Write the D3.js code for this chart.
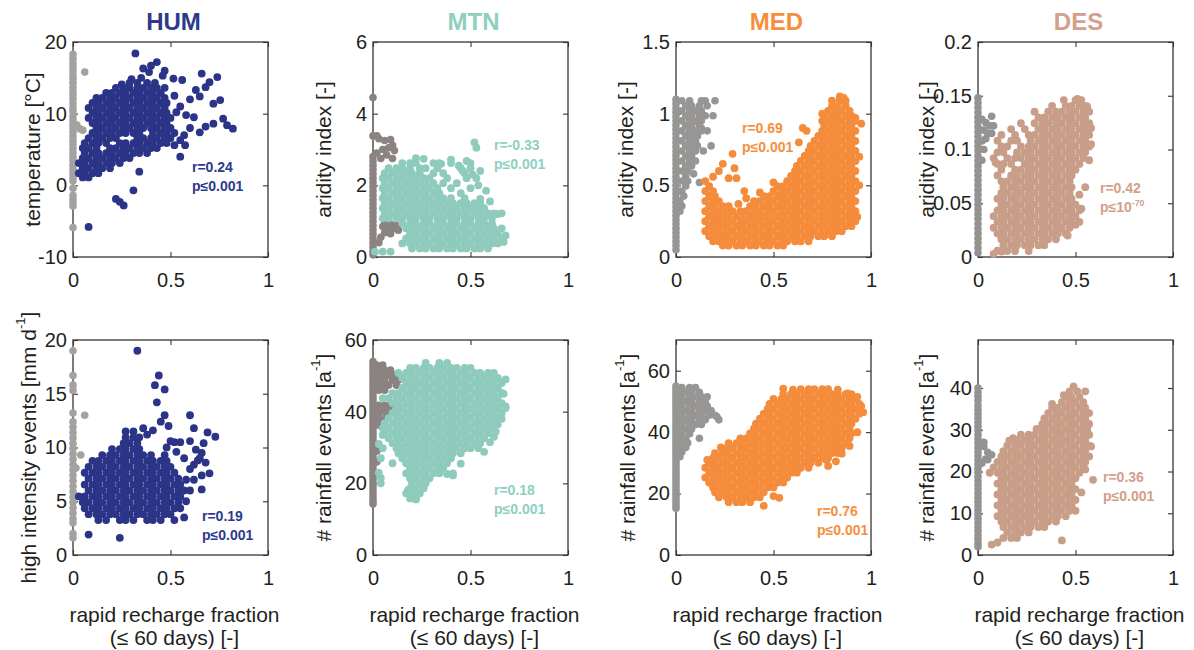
<!DOCTYPE html>
<html>
<head>
<meta charset="utf-8">
<script src="https://cdn.jsdelivr.net/npm/d3@7"></script>
<style>
  body { margin: 0; background: #fff; }
</style>
</head>
<body>
<script>
// values
// dense parts of a cloud are written as rows: [y, x, x, x, ...]
// scattered points as [x, y]; grey points on x = 0 as a list of y values

var xTicks = [0, 0.5, 1];
var regions = ["HUM", "MTN", "MED", "DES"];

// HUM - temperature
var humTempRows = [
  [14.3, .29, .33, .38, .42],
  [13.6, .22, .26, .29, .33, .36, .40, .43, .47],
  [12.9, .17, .20, .24, .27, .31, .34, .38, .41, .45],
  [12.2, .12, .15, .19, .22, .26, .29, .33, .36, .40, .43, .47],
  [11.5, .10, .13, .17, .20, .24, .27, .31, .34, .38, .41, .45, .48],
  [10.8, .08, .12, .15, .19, .22, .26, .29, .33, .36, .40, .43, .47],
  [10.1, .10, .13, .17, .20, .24, .27, .31, .34, .38, .41, .45, .48],
  [9.4, .08, .12, .15, .19, .22, .26, .29, .33, .36, .40, .43, .47, .50],
  [8.7, .10, .13, .17, .20, .24, .27, .31, .34, .38, .41, .45, .48],
  [8.0, .12, .15, .19, .22, .26, .29, .33, .36, .40, .43, .47, .50],
  [7.3, .10, .13, .17, .20, .24, .27, .31, .34, .41, .45, .48, .52],
  [6.6, .08, .12, .15, .19, .22, .33, .36, .40, .43, .47, .50],
  [5.9, .06, .10, .13, .17, .24, .27, .31, .34, .38, .41, .45, .48],
  [5.2, .05, .08, .12, .19, .22, .26, .29, .33, .36, .40, .43],
  [4.5, .06, .10, .13, .17, .20, .24, .27, .31, .34, .38],
  [3.8, .05, .08, .12, .15, .19, .22, .26, .29],
  [3.1, .03, .06, .10, .13, .17, .20, .24],
  [2.4, .05, .08, .12, .15, .19],
  [1.7, .03, .06, .10, .13],
  [1.1, .05, .08]
];
var humTempPts = [[.32,18.4],[.43,17.2],[.40,16.7],[.36,16.3],[.39,15.8],[.47,16.0],[.46,15.3],[.515,14.9],[.35,15.0],[.30,14.8],[.25,14.1],
  [.56,14.7],[.66,15.6],[.74,15.1],[.70,14.4],[.68,13.7],[.63,13.3],[.65,12.4],[.60,12.0],[.72,11.4],[.755,11.9],[.52,12.5],[.55,11.0],
  [.53,10.2],[.58,9.8],[.62,9.5],[.77,9.3],[.79,8.4],[.82,7.9],[.65,7.4],[.72,8.6],[.68,8.2],[.60,8.0],[.57,7.0],[.55,6.3],[.52,5.6],
  [.575,5.6],[.55,4.0],[.31,-0.7],[.22,-1.9],[.24,-2.3],[.26,-2.8],[.08,-5.8],[.34,1.9]];
var humTempGreyY = [18.3,17.7,17.1,16.6,16.0,15.4,14.9,14.3,13.7,13.1,12.6,12.0,11.4,10.8,10.3,9.7,9.1,8.5,8.0,7.4,6.8,6.2,5.7,5.1,4.5,3.9,3.4,2.8,2.2,1.6,1.1,0.6,-0.4,-1.4,-1.9,-2.4,-2.9,-5.9];
var humTempGreyRows = [];
var humTempGreyPts = [[.06,15.8],[.035,7.9],[.02,8.4],[.05,7.7]];

// HUM - high intensity events
var humIntRows = [
  [11.5, .27, .31],
  [10.95, .27, .31, .34],
  [10.4, .26, .29, .33],
  [9.85, .20, .24, .27, .31, .34],
  [9.3, .15, .19, .22, .26, .29, .33, .36, .40, .47],
  [8.75, .10, .13, .17, .20, .24, .27, .31, .34, .38, .41, .45, .48],
  [8.2, .08, .12, .15, .19, .22, .26, .29, .33, .36, .40, .43, .47, .50],
  [7.65, .06, .10, .13, .17, .20, .24, .27, .31, .34, .38, .41, .45, .48, .52],
  [7.1, .08, .12, .15, .19, .22, .26, .29, .33, .36, .40, .43, .47, .50, .54],
  [6.55, .06, .10, .13, .17, .20, .24, .27, .31, .34, .38, .41, .45, .48, .52, .55],
  [6.0, .08, .12, .15, .19, .22, .26, .29, .33, .36, .40, .43, .47, .50, .54, .57],
  [5.45, .03, .06, .10, .13, .17, .20, .24, .27, .31, .34, .38, .41, .45, .48, .52, .55],
  [4.9, .05, .08, .12, .15, .19, .22, .26, .29, .33, .36, .40, .43, .47, .50, .54],
  [4.35, .06, .10, .13, .17, .20, .24, .27, .31, .34, .38, .41, .45, .48, .52, .55],
  [3.8, .08, .12, .15, .19, .22, .26, .29, .33, .36, .40, .43, .47, .50],
  [3.25, .13, .17, .24, .27, .31, .38, .41, .45, .52]
];
var humIntPts = [[.33,19.0],[.44,16.7],[.42,15.8],[.47,15.4],[.43,14.2],[.47,13.0],[.45,12.4],[.49,12.0],[.41,11.6],[.36,11.8],[.38,11.2],
  [.50,10.6],[.52,10.5],[.55,10.5],[.53,9.6],[.48,10.0],[.60,13.0],[.62,11.8],[.69,11.4],[.73,11.0],[.67,10.4],[.60,10.6],[.63,9.8],
  [.66,9.5],[.65,9.0],[.68,8.6],[.70,7.6],[.62,8.4],[.64,8.8],[.66,7.4],[.60,8.0],[.57,9.0],[.58,7.0],[.62,7.0],[.66,6.1],[.60,6.0],
  [.58,5.0],[.57,3.5],[.08,1.9],[.24,1.6]];
var humIntGreyY = [19.0,16.7,15.8,15.3,13.2,12.4,11.9,11.4,10.9,10.4,9.9,9.4,8.9,8.4,7.9,7.4,6.9,6.4,5.9,5.4,4.9,4.4,3.9,3.4,3.0,2.0,1.6];
var humIntGreyRows = [];
var humIntGreyPts = [[.06,13.0],[.04,9.3],[.015,8.1]];

// MTN - aridity index
var mtnAridRows = [
  [2.62, .15, .19, .22, .31, .34, .40],
  [2.48, .08, .12, .15, .19, .24, .27, .33, .45, .50],
  [2.34, .06, .10, .13, .17, .20, .24, .31, .36, .47],
  [2.20, .05, .08, .12, .15, .19, .22, .26, .29, .38, .48, .53],
  [2.06, .06, .10, .13, .17, .20, .24, .27, .31, .36, .43],
  [1.92, .05, .08, .12, .15, .19, .22, .26, .29, .33, .40, .50],
  [1.78, .06, .10, .13, .17, .20, .24, .27, .31, .34, .45],
  [1.64, .05, .08, .12, .15, .19, .22, .26, .29, .33, .36, .40, .47],
  [1.50, .06, .10, .13, .17, .20, .24, .27, .31, .34, .38, .41, .45, .48, .52, .55],
  [1.36, .05, .08, .12, .15, .19, .22, .26, .29, .33, .36, .40, .43, .47, .50, .54, .57],
  [1.22, .06, .10, .13, .17, .20, .24, .27, .31, .34, .38, .41, .45, .48, .52, .55, .59, .62],
  [1.08, .05, .08, .12, .15, .19, .22, .26, .29, .33, .36, .40, .43, .47, .50, .54, .57, .61],
  [0.94, .15, .19, .22, .26, .29, .33, .36, .40, .43, .47, .50, .54, .57, .61],
  [0.80, .17, .20, .24, .27, .31, .34, .38, .41, .45, .48, .52, .55, .59, .62, .66],
  [0.66, .19, .22, .26, .29, .33, .36, .40, .43, .47, .50, .54, .57, .61, .64],
  [0.52, .17, .20, .24, .27, .31, .34, .38, .41, .45, .48, .52, .55, .59, .62, .66],
  [0.38, .15, .19, .22, .26, .29, .33, .36, .40, .43, .47, .50, .54, .57, .61, .64],
  [0.24, .20, .24, .27, .31, .34, .38, .41, .45, .48, .52, .55, .59]
];
var mtnAridPts = [[.52,3.2],[.53,3.05],[.48,2.68],[.40,2.72],[.44,2.55],[.35,2.6],[.26,2.74],[.22,2.76],[.54,2.0],[.51,2.3],[.46,2.4],
  [.50,2.62],[.55,1.62],[.60,1.55],[.64,1.2],[.66,1.22],[.67,0.42],[.68,0.6],[.01,0.15],[.05,0.15],[.09,0.15],[.58,1.85],[.55,2.4]];
var mtnAridGreyY = [3.38,2.8,2.68,2.56,2.44,2.32,2.2,2.08,1.96,1.84,1.72,1.6,1.48,1.36,1.24,1.12,1.0,0.88,0.76,0.64,0.52,0.4,0.28,0.16,0.06];
var mtnAridGreyRows = [];
var mtnAridGreyPts = [[0,4.45],[.02,3.38],[.03,3.3],[.06,3.25],[.09,3.28],[.10,3.12],[.11,2.97],[.08,3.05],[.07,2.85],[.04,2.75],
  [.10,2.75],[.05,3.0],[.02,2.9],[.06,.95],[.09,.92],[.12,.88],[.07,.80],[.10,.78],[.13,.75],[.06,.68],[.09,.65],[.04,.55],[.03,.40],[.05,.85]];

// MTN - rainfall events
var mtnRainRows = [
  [53.6, .27, .34, .38],
  [52.2, .19, .22, .26, .29, .33, .36, .40, .43, .47, .50],
  [50.8, .13, .17, .20, .24, .27, .31, .34, .38, .41, .45, .48, .52, .55, .59, .62],
  [49.4, .15, .19, .22, .26, .29, .33, .36, .40, .43, .47, .50, .54, .57, .61, .64],
  [48.0, .17, .20, .24, .27, .31, .34, .38, .41, .45, .48, .52, .55, .59, .62, .66],
  [46.6, .15, .19, .22, .26, .29, .33, .36, .40, .43, .47, .50, .54, .57, .61, .64],
  [45.2, .10, .13, .17, .20, .24, .27, .31, .34, .38, .41, .45, .48, .52, .55, .59, .62, .66],
  [43.8, .05, .08, .12, .15, .19, .22, .26, .29, .33, .36, .40, .43, .47, .50, .54, .57, .61, .64],
  [42.4, .10, .13, .17, .20, .24, .27, .31, .34, .38, .41, .45, .48, .52, .55, .59, .62, .66],
  [41.0, .12, .15, .19, .22, .26, .29, .33, .36, .40, .43, .47, .50, .54, .57, .61, .64, .68],
  [39.6, .10, .13, .17, .20, .24, .27, .31, .34, .38, .41, .45, .48, .52, .55, .59, .62, .66],
  [38.2, .08, .12, .15, .19, .22, .26, .29, .33, .36, .40, .43, .47, .50, .54, .57, .61, .64],
  [36.8, .06, .10, .13, .17, .20, .24, .27, .31, .34, .38, .41, .45, .48, .52, .55, .59, .62],
  [35.4, .05, .08, .12, .15, .19, .22, .26, .29, .33, .36, .40, .43, .47, .50, .54, .57, .61],
  [34.0, .06, .10, .13, .17, .20, .24, .27, .31, .34, .38, .41, .45, .48, .52, .55, .59],
  [32.6, .08, .12, .15, .19, .22, .26, .29, .33, .36, .40, .43, .47, .50, .54, .57],
  [31.2, .10, .13, .17, .20, .24, .27, .31, .34, .38, .41, .45, .48, .52, .55],
  [29.8, .05, .12, .15, .19, .22, .26, .29, .33, .36, .40, .43, .47, .50, .54],
  [28.4, .13, .17, .20, .24, .27, .31, .34, .38, .41, .45],
  [27.0, .15, .19, .22, .26, .29, .33, .36, .40],
  [25.6, .10, .17, .20, .24, .27, .31, .34, .38],
  [24.2, .19, .22, .26, .29, .33, .36],
  [22.8, .17, .20, .24, .27, .31, .34, .41],
  [21.4, .19, .22, .26, .29],
  [20.0, .20, .24, .27],
  [18.6, .19, .22, .26],
  [17.2, .17, .20, .24],
  [15.8, .19, .22]
];
var mtnRainPts = [[.68,49.0],[.67,45.0],[.68,41.5],[.66,38.0],[.63,34.5],[.62,33.0],[.03,23.0],[.04,20.0],[.04,27.0],[.03,31.0],
  [.05,33.5],[.04,21.5],[.41,22.2],[.38,22.6],[.45,25.5],[.22,15.5],[.18,18.2],[.57,28.8],[.60,31.5],[.64,36.5]];
var mtnRainGreyY = [54,53,52,51,50,49,48,47,46,45,44,43,42,41,40,39,38,37,36,35,34,33,32,31,30,29,28,27,26,25,24,23,22,21,20,19,18,17,16,15,14.2];
var mtnRainGreyRows = [
  [53.0, .02, .05],
  [51.6, .03, .06, .09],
  [50.2, .02, .05, .08, .11],
  [48.8, .03, .06, .10, .13],
  [47.4, .02, .05, .08, .12],
  [46.0, .03, .06],
  [41.8, .03, .06, .09],
  [40.4, .02, .05, .08],
  [39.0, .03, .07],
  [37.6, .02, .05],
  [36.2, .03]
];
var mtnRainGreyPts = [[.02,29.0],[.02,26.0]];

// MED - aridity index
var medAridRows = [
  [1.090, .80, .84, .87],
  [1.055, .80, .83, .87],
  [1.020, .78, .82, .85, .89],
  [0.985, .76, .80, .83, .87, .90],
  [0.950, .75, .78, .82, .85, .89, .92],
  [0.915, .76, .80, .83, .87, .90],
  [0.880, .75, .78, .82, .85, .89, .92],
  [0.845, .73, .76, .80, .83, .87, .90],
  [0.810, .71, .75, .78, .82, .85, .89, .92],
  [0.775, .69, .73, .76, .80, .83, .87, .90],
  [0.740, .68, .71, .75, .78, .82, .85, .89, .92],
  [0.705, .66, .69, .73, .76, .80, .83, .87, .90],
  [0.670, .64, .68, .71, .75, .78, .82, .85, .89, .92],
  [0.635, .62, .66, .69, .73, .76, .80, .83, .87, .90],
  [0.600, .61, .64, .68, .71, .75, .78, .82, .85, .89, .92],
  [0.565, .59, .62, .66, .69, .73, .76, .80, .83, .87, .90],
  [0.530, .57, .61, .64, .68, .71, .75, .78, .82, .85, .89, .92],
  [0.495, .17, .52, .55, .59, .62, .66, .69, .73, .76, .80, .83, .87, .90],
  [0.460, .15, .19, .50, .54, .57, .61, .64, .68, .71, .75, .78, .82, .85, .89, .92],
  [0.425, .17, .20, .45, .48, .52, .55, .59, .62, .66, .69, .73, .76, .80, .83, .87, .90],
  [0.390, .15, .19, .22, .40, .43, .47, .50, .54, .57, .61, .64, .68, .71, .75, .78, .82, .85, .89, .92],
  [0.355, .17, .20, .24, .27, .38, .41, .45, .48, .52, .55, .59, .62, .66, .69, .73, .76, .80, .83, .87, .90],
  [0.320, .15, .19, .22, .26, .29, .33, .36, .40, .43, .47, .50, .54, .57, .61, .64, .68, .71, .75, .78, .82, .85, .89, .92],
  [0.285, .17, .20, .24, .27, .31, .34, .38, .41, .45, .48, .52, .55, .59, .62, .66, .69, .73, .76, .80, .83, .87, .90],
  [0.250, .15, .19, .22, .26, .29, .33, .36, .40, .43, .47, .50, .54, .57, .61, .64, .68, .71, .75, .78, .82, .85, .89, .92],
  [0.215, .17, .20, .24, .27, .31, .34, .38, .41, .45, .48, .52, .55, .59, .62, .66, .69, .73, .76, .80, .83, .87, .90],
  [0.180, .15, .19, .22, .26, .29, .33, .36, .40, .43, .47, .50, .54, .57, .61, .64, .68, .71, .75, .78, .82, .85],
  [0.145, .17, .20, .24, .27, .31, .34, .38, .41, .45, .48, .52, .55, .59, .62, .66, .69, .73, .76, .80],
  [0.110, .19, .22, .26, .29, .33, .36, .40, .43, .47, .50, .54, .57, .61, .64, .68],
  [0.080, .24, .27, .31, .34, .38, .41, .45, .48, .52, .55]
];
var medAridPts = [[.29,.72],[.24,.65],[.30,.62],[.31,.55],[.35,.46],[.27,.55],[.22,.60],[.19,.56],[.15,.53],[.65,.90],[.67,.88],
  [.63,.80],[.86,1.11],[.92,.97],[.95,.93],[.94,.70],[.94,.50],[.50,.52],[.43,.45],[.36,.41],[.32,.37],[.93,.28],[.84,1.12],[.75,1.0]];
var medAridGreyY = [1.1,1.07,1.04,1.01,.98,.95,.92,.89,.86,.83,.80,.77,.74,.71,.68,.65,.62,.59,.56,.53,.50,.47,.44,.41,.38,.35,.32,.29,.26,.23,.20,.17,.14,.11,.08,.05];
var medAridGreyRows = [
  [1.090, .03, .07, .13, .15, .20],
  [1.055, .05, .08, .12, .16],
  [1.020, .03, .07, .10, .13],
  [0.985, .05, .08, .12, .15, .19],
  [0.950, .03, .07, .10, .13],
  [0.915, .05, .08, .12],
  [0.880, .03, .07, .10, .13],
  [0.845, .05, .08, .11],
  [0.810, .03, .07, .10],
  [0.775, .05, .08, .11, .18],
  [0.740, .03, .07, .10, .14],
  [0.705, .05, .08],
  [0.670, .03, .07, .10],
  [0.635, .05, .08],
  [0.600, .03, .06],
  [0.565, .05],
  [0.530, .03, .06],
  [0.495, .05],
  [0.460, .03],
  [0.425, .04],
  [0.390, .02],
  [0.355, .03],
  [0.320, .02]
];
var medAridGreyPts = [[.12,.52],[.09,.58],[.13,.90],[.16,.88]];

// MED - rainfall events
var medRainRows = [
  [54.0, .64, .68, .71, .75, .78],
  [52.4, .55, .59, .62, .66, .69, .73, .76, .80, .83, .87, .90],
  [50.8, .50, .54, .57, .61, .64, .68, .71, .75, .78, .82, .85, .89, .92],
  [49.2, .48, .52, .55, .59, .62, .66, .69, .73, .76, .80, .83, .87, .90, .94],
  [47.6, .47, .50, .54, .57, .61, .64, .68, .71, .75, .78, .82, .85, .89, .92],
  [46.0, .45, .48, .52, .55, .59, .62, .66, .69, .73, .76, .80, .83, .87, .90, .94],
  [44.4, .43, .47, .50, .54, .57, .61, .64, .68, .71, .75, .78, .82, .85, .89, .92],
  [42.8, .41, .45, .48, .52, .55, .59, .62, .66, .69, .73, .76, .80, .83, .87, .90],
  [41.2, .40, .43, .47, .50, .54, .57, .61, .64, .68, .71, .75, .78, .82, .85, .89],
  [39.6, .38, .41, .45, .48, .52, .55, .59, .62, .66, .69, .73, .76, .80, .83, .87, .90],
  [38.0, .33, .36, .40, .43, .47, .50, .54, .57, .61, .64, .68, .71, .75, .78, .82, .85, .89],
  [36.4, .27, .31, .34, .38, .41, .45, .48, .52, .55, .59, .62, .66, .69, .73, .76, .80, .83, .87],
  [34.8, .26, .29, .33, .36, .40, .43, .47, .50, .54, .57, .61, .64, .68, .71, .75, .78, .82, .85],
  [33.2, .24, .27, .31, .34, .38, .41, .45, .48, .52, .55, .59, .62, .66, .69, .73, .76, .80, .83],
  [31.6, .19, .22, .26, .29, .33, .36, .40, .43, .47, .50, .54, .57, .61, .64, .68, .71, .75, .78],
  [30.0, .17, .20, .24, .27, .31, .34, .38, .41, .45, .48, .52, .55, .59, .62, .66, .69, .73],
  [28.4, .15, .19, .22, .26, .29, .33, .36, .40, .43, .47, .50, .54, .57, .61, .64, .68],
  [26.8, .17, .20, .24, .27, .31, .34, .38, .41, .45, .48, .52, .55, .59, .62],
  [25.2, .15, .19, .22, .26, .29, .33, .36, .40, .43, .47, .50, .54, .57],
  [23.6, .17, .20, .24, .27, .31, .34, .38, .41, .45, .48, .52, .55],
  [22.0, .19, .22, .26, .29, .33, .36, .40, .43, .47, .50],
  [20.4, .20, .24, .27, .31, .34, .38, .41, .45],
  [18.8, .22, .26, .29, .33, .36, .40, .43],
  [17.2, .27, .31, .34, .38]
];
var medRainPts = [[.45,16.0],[.50,19.2],[.53,18.6],[.78,29.0],[.85,33.0],[.77,31.0],[.82,30.5],[.89,35.5],[.93,40.0],[.96,46.5],
  [.95,48.5],[.93,51.5],[.83,53.8],[.60,53.8],[.55,54.2],[.16,31.0],[.20,33.2],[.23,35.0],[.40,38.8],[.88,52.6]];
var medRainGreyY = [55,54,53,52,51,50,49,48,47,46,45,44,43,42,41,40,39,38,37,36,35,34,33,32,31,30,29,28,27,26,25,24,23,22,21,20,19,18,17,16,15.2];
var medRainGreyRows = [
  [54.5, .03, .07, .10],
  [53.0, .02, .05, .08, .12],
  [51.5, .03, .07, .10, .13, .16],
  [50.0, .02, .05, .08, .12, .15],
  [48.5, .03, .07, .10, .13, .16],
  [47.0, .02, .05, .08, .12, .15, .18],
  [45.5, .03, .07, .10, .13, .17, .20],
  [44.0, .02, .05, .08, .12, .15, .22],
  [42.5, .03, .07, .10, .13],
  [41.0, .02, .05, .08],
  [39.5, .03, .07],
  [38.0, .02, .05, .12],
  [36.5, .03, .06],
  [35.0, .02, .05],
  [33.5, .03],
  [32.0, .02]
];
var medRainGreyPts = [[.18,46.5],[.21,45.0]];

// DES - aridity index
var desAridRows = [
  [.1460, .44, .50, .53],
  [.1406, .38, .45, .48, .52, .55],
  [.1352, .29, .36, .40, .43, .47, .50, .54, .57],
  [.1298, .31, .34, .38, .41, .45, .48, .52, .55],
  [.1244, .22, .29, .33, .36, .40, .43, .47, .50, .54, .57],
  [.1190, .17, .24, .31, .34, .38, .41, .45, .48, .52, .55],
  [.1136, .12, .19, .26, .29, .33, .36, .40, .43, .47, .50, .54, .57],
  [.1082, .10, .17, .20, .27, .31, .34, .38, .41, .45, .48, .52, .55],
  [.1028, .12, .15, .22, .26, .29, .33, .36, .40, .43, .47, .50, .54, .57],
  [.0974, .10, .13, .20, .24, .27, .31, .34, .38, .41, .45, .48, .52, .55],
  [.0920, .08, .15, .19, .22, .26, .29, .33, .36, .40, .43, .47, .50, .54],
  [.0866, .10, .13, .17, .24, .27, .31, .34, .38, .41, .45, .48, .52],
  [.0812, .12, .19, .22, .26, .29, .33, .36, .40, .43, .47, .50],
  [.0758, .10, .17, .20, .24, .27, .31, .34, .38, .41, .45, .48],
  [.0704, .12, .15, .19, .22, .26, .29, .33, .36, .40, .43, .47],
  [.0650, .13, .17, .20, .24, .27, .31, .34, .38, .41, .45, .48],
  [.0596, .12, .15, .19, .22, .26, .29, .33, .36, .40, .43, .47],
  [.0542, .10, .13, .17, .20, .24, .27, .31, .34, .38, .41, .45, .48],
  [.0488, .12, .15, .19, .22, .26, .29, .33, .36, .40, .43, .47, .50],
  [.0434, .10, .13, .17, .20, .24, .27, .31, .34, .38, .41, .45, .48, .52],
  [.0380, .08, .12, .15, .19, .22, .26, .29, .33, .36, .40, .43, .47, .50],
  [.0326, .10, .13, .17, .20, .24, .27, .31, .34, .38, .41, .45, .48, .52],
  [.0272, .08, .12, .15, .19, .22, .26, .29, .33, .36, .40, .43, .47],
  [.0218, .10, .13, .17, .20, .24, .27, .31, .34, .38, .41, .45],
  [.0164, .12, .15, .19, .22, .26, .29, .33, .36, .40],
  [.0110, .13, .17, .20, .24, .27, .31, .34],
  [.0056, .15, .19, .26]
];
var desAridPts = [[.08,.003],[.10,.006],[.55,.065],[.52,.058],[.57,.09],[.58,.105],[.09,.088],[.58,.12],[.51,.147],[.56,.140],
  [.12,.005],[.46,.02],[.50,.03],[.53,.045]];
var desAridGreyY = [.148,.1435,.139,.1345,.13,.1255,.121,.1165,.112,.1075,.103,.0985,.094,.0895,.085,.0805,.076,.0715,.067,.0625,.058,.0535,.049,.0445,.04,.0355,.031,.0265,.022,.0175,.013,.0085,.004];
var desAridGreyRows = [];
var desAridGreyPts = [[.07,.131],[.08,.122],[.06,.122],[.04,.125],[.03,.118],[.05,.115],[.02,.108],[.03,.10],[.02,.09],[.04,.11],[.02,.128],[.07,.115]];

// DES - rainfall events
var desRainRows = [
  [39.2, .47, .51],
  [37.9, .45, .48, .52],
  [36.6, .43, .47, .50, .54],
  [35.3, .38, .41, .45, .48, .52, .55],
  [34.0, .36, .40, .43, .47, .50, .54, .57],
  [32.7, .34, .38, .41, .45, .48, .52, .55],
  [31.4, .33, .36, .40, .43, .47, .50, .54, .57],
  [30.1, .31, .34, .38, .41, .45, .48, .52, .55],
  [28.8, .22, .26, .29, .33, .36, .40, .43, .47, .50, .54, .57],
  [27.5, .20, .24, .27, .31, .34, .38, .41, .45, .48, .52, .55],
  [26.2, .15, .19, .22, .26, .29, .33, .36, .40, .43, .47, .50, .54, .57],
  [24.9, .13, .17, .20, .24, .27, .31, .34, .38, .41, .45, .48, .52, .55],
  [23.6, .12, .15, .19, .22, .26, .29, .33, .36, .40, .43, .47, .50, .54, .57],
  [22.3, .10, .13, .17, .20, .24, .27, .31, .34, .38, .41, .45, .48, .52, .55],
  [21.0, .08, .12, .15, .19, .22, .26, .29, .33, .36, .40, .43, .47, .50, .54],
  [19.7, .06, .10, .13, .17, .20, .24, .27, .31, .34, .38, .41, .45, .48, .52],
  [18.4, .12, .15, .19, .22, .26, .29, .33, .36, .40, .43, .47, .50],
  [17.1, .10, .13, .17, .20, .24, .27, .31, .34, .38, .41, .45, .48],
  [15.8, .12, .15, .19, .22, .26, .29, .33, .36, .40, .43, .47, .50],
  [14.5, .10, .13, .17, .20, .24, .27, .31, .34, .38, .41, .45, .48],
  [13.2, .12, .15, .19, .22, .26, .29, .33, .36, .40, .43, .47, .50],
  [11.9, .10, .13, .17, .20, .24, .27, .31, .34, .38, .41, .45, .48],
  [10.6, .12, .15, .19, .22, .26, .29, .33, .36, .40, .43, .47, .50],
  [9.3, .10, .13, .17, .20, .24, .27, .31, .34, .38, .41, .45],
  [8.0, .12, .15, .19, .22, .26, .29, .33, .36, .40],
  [6.7, .13, .17, .20, .24, .27, .31, .34],
  [5.4, .15, .19, .22, .26],
  [4.1, .13, .17, .20]
];
var desRainPts = [[.07,2.5],[.10,3.0],[.43,3.5],[.59,18.0],[.55,20.5],[.53,15.0],[.49,40.4],[.55,39.2],[.44,38.3],[.38,36.2],
  [.30,30.2],[.18,28.0],[.16,27.4],[.56,30.0],[.58,26.0]];
var desRainGreyY = [40,39,38,37,35.8,34.8,33.8,32.8,31.8,30.8,29.8,28.8,27.8,26.8,25.8,24.8,23.8,22.8,21.8,20.8,19.8,18.8,17.8,16.8,15.8,14.8,13.8,12.8,11.8,10.8,9.8,8.8,7.8,6.8,5.8,4.8,3.8,2.8,2.0];
var desRainGreyRows = [];
var desRainGreyPts = [[.07,24.0],[.05,24.6],[.04,23.0],[.03,26.0],[.02,22.0],[.05,22.8],[.03,27.0]];

// ---- styles / layout ----
var mainColors = ["#2b3487", "#8ecbbd", "#f48c3c", "#c99e89"];
var titleColors = ["#2d3a8c", "#8ecfc0", "#f68f3d", "#d2a08b"];
var greyColors = ["#a3a2a0", "#8b8381", "#979695", "#949392"];
var axisColor = "#3b3431";
var textColor = "#231f20";
var font = "'Liberation Sans', Arial, sans-serif";

var lefts = [73, 373, 676, 978], tops = [42, 340];
var pw = 195, ph = 215;

var panels = [
  {col: 0, row: 0, yDomain: [-10, 20], yTicks: [-10, 0, 10, 20], ylabel: [["temperature [°C]"]], labOff: 41,
   rows: humTempRows, pts: humTempPts, greyY: humTempGreyY, greyRows: humTempGreyRows, greyPts: humTempGreyPts,
   r: "r=0.24", p: [["p≤0.001"]], ann: [119, 130]},
  {col: 1, row: 0, yDomain: [0, 6], yTicks: [0, 2, 4, 6], ylabel: [["aridity index [-]"]], labOff: 50,
   rows: mtnAridRows, pts: mtnAridPts, greyY: mtnAridGreyY, greyRows: mtnAridGreyRows, greyPts: mtnAridGreyPts,
   r: "r=-0.33", p: [["p≤0.001"]], ann: [121, 108]},
  {col: 2, row: 0, yDomain: [0, 1.5], yTicks: [0, 0.5, 1, 1.5], ylabel: [["aridity index [-]"]], labOff: 51,
   rows: medAridRows, pts: medAridPts, greyY: medAridGreyY, greyRows: medAridGreyRows, greyPts: medAridGreyPts,
   r: "r=0.69", p: [["p≤0.001"]], ann: [66, 91]},
  {col: 3, row: 0, yDomain: [0, 0.2], yTicks: [0, 0.05, 0.1, 0.15, 0.2], ylabel: [["aridity index [-]"]], labOff: 52,
   rows: desAridRows, pts: desAridPts, greyY: desAridGreyY, greyRows: desAridGreyRows, greyPts: desAridGreyPts,
   r: "r=0.42", p: [["p≤10"], ["-70", true]], ann: [122, 151]},
  {col: 0, row: 1, yDomain: [0, 20], yTicks: [0, 5, 10, 15, 20], ylabel: [["high intensity events [mm d"], ["-1", true], ["]"]], labOff: 45,
   rows: humIntRows, pts: humIntPts, greyY: humIntGreyY, greyRows: humIntGreyRows, greyPts: humIntGreyPts,
   r: "r=0.19", p: [["p≤0.001"]], ann: [129, 181]},
  {col: 1, row: 1, yDomain: [0, 60], yTicks: [0, 20, 40, 60], ylabel: [["# rainfall events [a"], ["-1", true], ["]"]], labOff: 50,
   rows: mtnRainRows, pts: mtnRainPts, greyY: mtnRainGreyY, greyRows: mtnRainGreyRows, greyPts: mtnRainGreyPts,
   r: "r=0.18", p: [["p≤0.001"]], ann: [121, 155]},
  {col: 2, row: 1, yDomain: [0, 70], yTicks: [0, 20, 40, 60], ylabel: [["# rainfall events [a"], ["-1", true], ["]"]], labOff: 49,
   rows: medRainRows, pts: medRainPts, greyY: medRainGreyY, greyRows: medRainGreyRows, greyPts: medRainGreyPts,
   r: "r=0.76", p: [["p≤0.001"]], ann: [141, 176]},
  {col: 3, row: 1, yDomain: [0, 51.5], yTicks: [0, 10, 20, 30, 40], ylabel: [["# rainfall events [a"], ["-1", true], ["]"]], labOff: 52,
   rows: desRainRows, pts: desRainPts, greyY: desRainGreyY, greyRows: desRainGreyRows, greyPts: desRainGreyPts,
   r: "r=0.36", p: [["p≤0.001"]], ann: [125, 142]}
];

var svg = d3.select("body")
  .append("svg")
    .attr("width", 1194)
    .attr("height", 650)
    .style("font-family", font);

// rows [y, x, x, ...] -> [x, y] points
function unpack(rows) {
  var out = [];
  rows.forEach(function(r) {
    for (var i = 1; i < r.length; i++) out.push([r[i], r[0]]);
  });
  return out;
}

// text with superscripts; parts = [[text, isSup], ...]
function rich(t, parts, fs) {
  var shift = 0.4 * fs, up = false;
  parts.forEach(function(q) {
    var s = t.append("tspan").text(q[0]);
    if (q[1]) { s.attr("dy", -shift).style("font-size", (fs * 0.62) + "px"); up = true; }
    else if (up) { s.attr("dy", shift); up = false; }
  });
}

function styleAxis(sel, showText) {
  sel.select(".domain").remove();
  sel.selectAll(".tick line").attr("stroke", axisColor).attr("stroke-width", 1.1);
  sel.selectAll(".tick text")
    .attr("fill", textColor)
    .style("font-size", "20px")
    .style("font-family", font);
  if (!showText) sel.selectAll(".tick text").remove();
}

panels.forEach(function(p) {
  var x0 = lefts[p.col], y0 = tops[p.row];
  var g = svg.append("g")
    .attr("transform", "translate(" + x0 + "," + y0 + ")");

  var x = d3.scaleLinear().domain([0, 1]).range([0, pw]);
  var y = d3.scaleLinear().domain(p.yDomain).range([ph, 0]);

  // frame
  g.append("rect")
    .attr("width", pw)
    .attr("height", ph)
    .attr("fill", "none")
    .attr("stroke", axisColor)
    .attr("stroke-width", 1.3);

  var fmt = function(d) { return String(d); };
  g.append("g")
    .attr("transform", "translate(0," + ph + ")")
    .call(d3.axisBottom(x).tickValues(xTicks).tickFormat(fmt).tickSize(-5).tickPadding(16))
    .call(styleAxis, true);
  g.append("g")
    .call(d3.axisTop(x).tickValues(xTicks).tickSize(-5))
    .call(styleAxis, false);
  g.append("g")
    .call(d3.axisLeft(y).tickValues(p.yTicks).tickFormat(fmt).tickSize(-5).tickPadding(6))
    .call(styleAxis, true);
  g.append("g")
    .attr("transform", "translate(" + pw + ",0)")
    .call(d3.axisRight(y).tickValues(p.yTicks).tickSize(-5))
    .call(styleAxis, false);

  // grey points
  var grey = p.greyY.map(function(v) { return [0, v]; })
    .concat(unpack(p.greyRows))
    .concat(p.greyPts);
  g.append("g")
    .selectAll("circle")
    .data(grey)
    .enter()
    .append("circle")
      .attr("cx", function(d) { return x(d[0]); })
      .attr("cy", function(d) { return y(d[1]); })
      .attr("r", 3.8)
      .style("fill", greyColors[p.col]);

  // coloured points
  var pts = unpack(p.rows).concat(p.pts);
  g.append("g")
    .selectAll("circle")
    .data(pts)
    .enter()
    .append("circle")
      .attr("cx", function(d) { return x(d[0]); })
      .attr("cy", function(d) { return y(d[1]); })
      .attr("r", 3.9)
      .style("fill", mainColors[p.col]);

  // r / p annotation
  g.append("text")
    .attr("x", p.ann[0])
    .attr("y", p.ann[1])
    .attr("fill", titleColors[p.col])
    .style("font-size", "14px")
    .style("font-weight", "bold")
    .text(p.r);
  var pt = g.append("text")
    .attr("x", p.ann[0])
    .attr("y", p.ann[1] + 19)
    .attr("fill", titleColors[p.col])
    .style("font-size", "14px")
    .style("font-weight", "bold");
  rich(pt, p.p, 14);

  // y label
  var yl = g.append("text")
    .attr("transform", "translate(" + (-p.labOff) + "," + (ph / 2) + ") rotate(-90)")
    .attr("text-anchor", "middle")
    .attr("dominant-baseline", "central")
    .attr("fill", textColor)
    .style("font-size", "21px");
  rich(yl, p.ylabel, 21);

  // region title
  if (p.row === 0) {
    g.append("text")
      .attr("x", pw / 2 + 3)
      .attr("y", 30 - y0)
      .attr("text-anchor", "middle")
      .attr("fill", titleColors[p.col])
      .style("font-size", "24px")
      .style("font-weight", "bold")
      .text(regions[p.col]);
  }

  // x label
  if (p.row === 1) {
    g.append("text")
      .attr("x", pw / 2 + 4)
      .attr("y", 282)
      .attr("text-anchor", "middle")
      .attr("fill", textColor)
      .style("font-size", "21px")
      .text("rapid recharge fraction");
    g.append("text")
      .attr("x", pw / 2 + 4)
      .attr("y", 305)
      .attr("text-anchor", "middle")
      .attr("fill", textColor)
      .style("font-size", "21px")
      .text("(≤ 60 days) [-]");
  }
});
</script>
</body>
</html>
